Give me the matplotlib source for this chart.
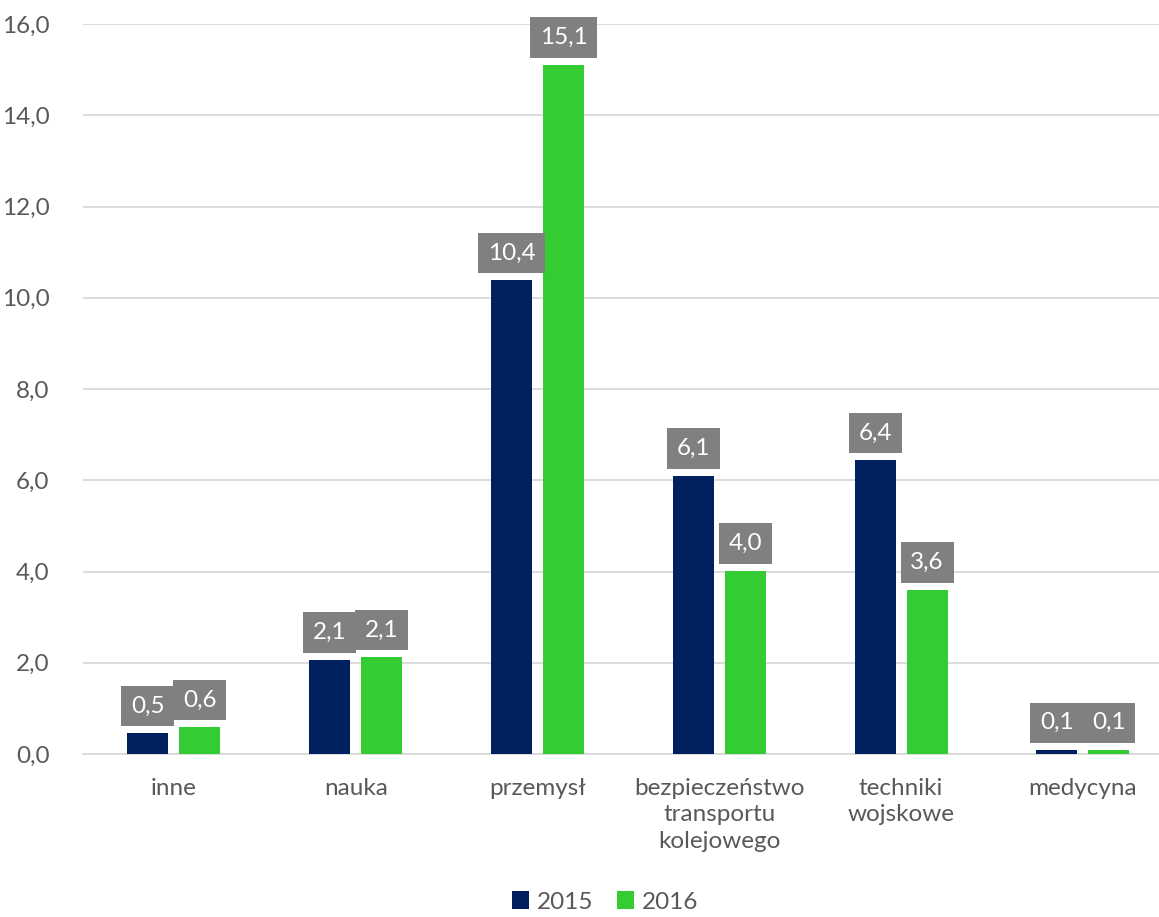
import matplotlib
matplotlib.use("Agg")
import matplotlib.pyplot as plt
import numpy as np

categories = ["inne", "nauka", "przemysł", "bezpieczeństwo\ntransportu\nkolejowego", "techniki\nwojskowe", "medycyna"]
series_names = ["2015", "2016"]
values_2015 = [0.46, 2.07, 10.38, 6.10, 6.44, 0.09]
values_2016 = [0.59, 2.12, 15.11, 4.02, 3.60, 0.09]
labels_2015 = ["0,5", "2,1", "10,4", "6,1", "6,4", "0,1"]
labels_2016 = ["0,6", "2,1", "15,1", "4,0", "3,6", "0,1"]
yticks = [0, 2, 4, 6, 8, 10, 12, 14, 16]
ytick_labels = ["0,0", "2,0", "4,0", "6,0", "8,0", "10,0", "12,0", "14,0", "16,0"]

colors = ["#002060", "#33CC33"]
text_color = "#595959"

plt.rcParams['font.family'] = ['Lato', 'DejaVu Sans']

W, H = 1159, 917
fig = plt.figure(figsize=(W / 100, H / 100), dpi=100)
ax = fig.add_axes([83 / W, (H - 754) / H, (W - 83) / W, (754 - 24) / H])

x = np.arange(len(categories))
bw = 0.226
off = 0.143
FS = 17.5
series = [(values_2015, labels_2015), (values_2016, labels_2016)]
for i, (vals, labs) in enumerate(series):
    xs = x + (-off if i == 0 else off)
    ax.bar(xs, vals, width=bw, color=colors[i], label=series_names[i], zorder=3)
    for xi, v, lab in zip(xs, vals, labs):
        ax.annotate(lab, (xi, v), xytext=(0, 12), textcoords="offset points",
                    ha="center", va="bottom", color="white", fontsize=FS,
                    bbox=dict(boxstyle="square,pad=0.4", fc="#808080", ec="none"),
                    zorder=4)

ax.set_xlim(-0.5, (W - 83) / 181.8 - 0.5)
ax.set_ylim(0, 16)
ax.set_yticks(yticks)
ax.set_yticklabels(ytick_labels)
ax.set_xticks(x)
ax.set_xticklabels(categories, linespacing=1.34)
ax.tick_params(axis="both", length=0, labelsize=FS, colors=text_color)
ax.tick_params(axis="y", pad=24)
ax.tick_params(axis="x", pad=17)
ax.grid(axis="y", color="#D9D9D9", linewidth=1.3, zorder=0)
for s in ["top", "right", "left"]:
    ax.spines[s].set_visible(False)
ax.spines["bottom"].set_color("#D9D9D9")
ax.spines["bottom"].set_linewidth(1.3)

leg = fig.legend(loc="center", bbox_to_anchor=(605 / W, 1 - 902 / H), ncol=2,
                 frameon=False, fontsize=FS, handlelength=0.7, handleheight=0.7,
                 handletextpad=0.3, columnspacing=1.0)
for t in leg.get_texts():
    t.set_color(text_color)

fig.savefig("out.png", dpi=100)
